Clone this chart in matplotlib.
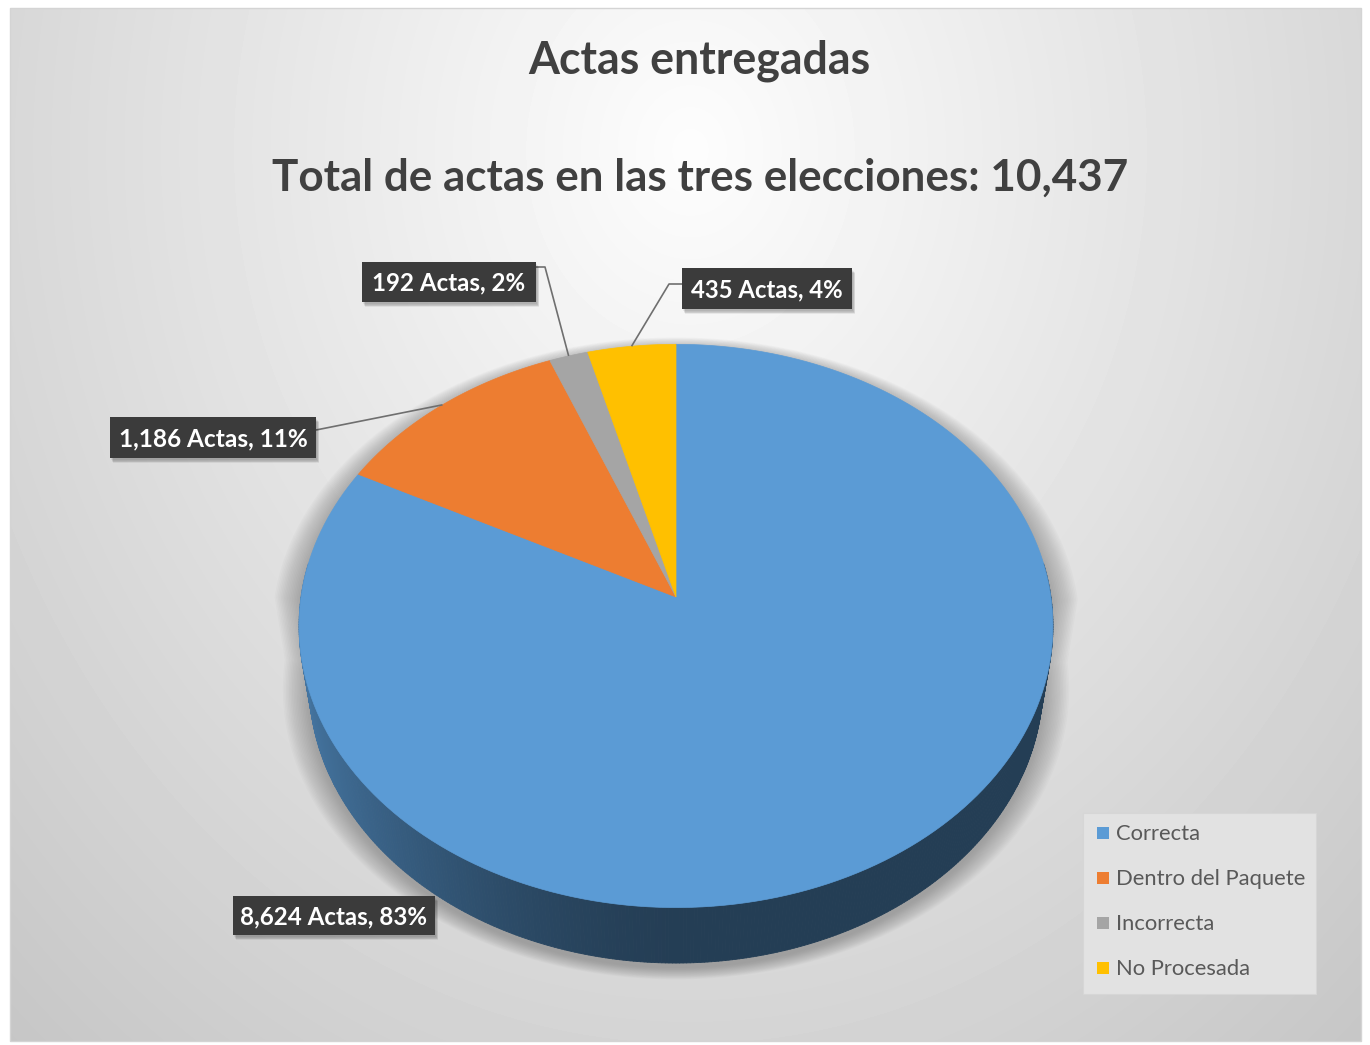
import numpy as np
import matplotlib
matplotlib.use('Agg')
import matplotlib.pyplot as plt
from matplotlib.patches import Polygon, Rectangle
from matplotlib.collections import PolyCollection
from matplotlib.colors import to_rgb

# ---------------- data ----------------
categories = ['Correcta', 'Dentro del Paquete', 'Incorrecta', 'No Procesada']
actas = [8624, 1186, 192, 435]
colors = ['#5B9BD5', '#ED7D31', '#A5A5A5', '#FFC000']
title = 'Actas entregadas'
subtitle = 'Total de actas en las tres elecciones: 10,437'

# ---------------- figure ----------------
W, H = 1370, 1045
fig = plt.figure(figsize=(W / 100, H / 100), dpi=100)
ax = fig.add_axes([0, 0, 1, 1])
ax.set_xlim(0, W)
ax.set_ylim(H, 0)
ax.axis('off')

FONT = ['Lato', 'DejaVu Sans']

# background gradient of chart area
x0, x1, y0, y1 = 10, 1361, 8, 1041
yy, xx = np.mgrid[y0:y1, x0:x1]
d = np.sqrt(((xx - 690) / 880.0) ** 2 + ((yy - 150) / 1050.0) ** 2)
img = np.clip(253 - 48 * d, 0, 255)
ax.imshow(img, extent=(x0, x1, y1, y0), cmap='gray', vmin=0, vmax=255,
          aspect='auto', zorder=0, interpolation='bilinear')
ax.add_patch(Rectangle((x0, y0), x1 - x0, y1 - y0, fill=False,
                       edgecolor='#d4d4d4', lw=1, zorder=1))

# ---------------- 3D pie projection ----------------
CX, CY = 676, 597
F, D = 2441.0, 6.51
el = np.radians(48)
sa, ca = np.sin(el), np.cos(el)
HGT = 0.238


def proj(x, y, z):
    v = y * sa + z * ca
    w = y * ca - z * sa
    return CX + F * x / (D + w), CY - F * v / (D + w)


total = sum(actas)
fr = np.array(actas) / total
bounds = np.concatenate([[0], np.cumsum(fr)]) * 360.0  # degrees clockwise from 12 o'clock


def slice_of(t):
    t = t % 360
    for i in range(len(actas)):
        if bounds[i] <= t < bounds[i + 1]:
            return i
    return len(actas) - 1


# soft shadow behind the pie
ts = np.radians(np.linspace(0, 360, 721))
sil = []
for t in ts:
    z = 0 if np.cos(t) >= 0 else -HGT
    sil.append(proj(np.sin(t), np.cos(t), z))
sil = np.array(sil)
for k in range(18):
    sx = 1.0 + 0.0042 * k
    sy = 1.0 + 0.0022 * k
    pts = np.column_stack([CX + (sil[:, 0] - CX) * sx,
                           660 + (sil[:, 1] - 660) * sy + 5])
    ax.add_patch(Polygon(pts, closed=True, facecolor='#6e6e6e', edgecolor='none',
                         alpha=0.035, zorder=2))

# side wall
quads, qcols = [], []
step = 0.5
for tdeg in np.arange(0, 360, step):
    tm = np.radians(tdeg + step / 2)
    if np.cos(tm) > 0.12:
        continue
    a, b = np.radians(tdeg), np.radians(tdeg + step)
    p = [proj(np.sin(a), np.cos(a), 0), proj(np.sin(b), np.cos(b), 0),
         proj(np.sin(b), np.cos(b), -HGT), proj(np.sin(a), np.cos(a), -HGT)]
    quads.append(p)
    base = np.array(to_rgb(colors[slice_of(tdeg + step / 2)]))
    f = 0.40 + 0.36 * max(0.0, -np.sin(tm)) ** 1.6
    qcols.append(tuple(np.clip(base * f, 0, 1)))
ax.add_collection(PolyCollection(quads, facecolors=qcols, edgecolors=qcols,
                                 linewidths=0.6, zorder=3))

# top face slices
for i in range(len(actas)):
    tt = np.radians(np.linspace(bounds[i], bounds[i + 1], 200))
    pts = [proj(0, 0, 0)] + [proj(np.sin(t), np.cos(t), 0) for t in tt]
    ax.add_patch(Polygon(pts, closed=True, facecolor=colors[i], edgecolor=colors[i],
                         lw=0.5, zorder=4))

# ---------------- titles ----------------
fig.canvas.draw()
renderer = fig.canvas.get_renderer()


def fit(txt, target):
    w = txt.get_window_extent(renderer).width
    txt.set_fontsize(txt.get_fontsize() * target / w)


t1 = ax.text(699, 61, title, ha='center', va='center', fontsize=26,
             fontweight='bold', color='#404040', family=FONT, zorder=10)
t2 = ax.text(700, 178, subtitle, ha='center', va='center', fontsize=26,
             fontweight='bold', color='#404040', family=FONT, zorder=10)
fit(t1, 342)
fit(t2, 855)

# ---------------- data labels ----------------
label_boxes = [(233, 896, 435, 935), (110, 417, 316, 458),
               (362, 262, 536, 302), (682, 268, 852, 309)]
text_widths = [188, 190, 154, 152]
leader_start = [None, [(316, 430)], [(536, 267), (545, 267)], [(682, 284), (669, 284)]]

for i in range(len(actas)):
    bx0, by0, bx1, by1 = label_boxes[i]
    for k in range(5):
        ax.add_patch(Rectangle((bx0 + 1 + k * 0.6, by0 + 2 + k * 0.8), bx1 - bx0, by1 - by0,
                               facecolor='black', edgecolor='none', alpha=0.06, zorder=11))
    ax.add_patch(Rectangle((bx0, by0), bx1 - bx0, by1 - by0, facecolor='#3b3b3b',
                           edgecolor='none', zorder=12))
    lab = f"{actas[i]:,} Actas, {round(100 * actas[i] / total)}%"
    tx = ax.text((bx0 + bx1) / 2, (by0 + by1) / 2 + 1, lab, ha='center', va='center',
                 fontsize=15, fontweight='bold', color='white', family=FONT, zorder=13)
    fit(tx, text_widths[i])
    if leader_start[i] is not None:
        mid = np.radians((bounds[i] + bounds[i + 1]) / 2)
        end = proj(np.sin(mid), np.cos(mid), 0)
        path = leader_start[i] + [end]
        ax.plot([p[0] for p in path], [p[1] for p in path], color='#6f6f6f', lw=1.2,
                zorder=9, solid_capstyle='butt')

# ---------------- legend ----------------
lx0, ly0, lx1, ly1 = 1083, 813, 1316, 994
ax.add_patch(Rectangle((lx0, ly0), lx1 - lx0, ly1 - ly0, facecolor='#e2e2e2',
                       edgecolor='#d6d6d6', lw=0.8, zorder=10))
row_y = [833, 878, 923, 968]
for i, cat in enumerate(categories):
    ax.add_patch(Rectangle((1097, row_y[i] - 6), 12, 12, facecolor=colors[i],
                           edgecolor='none', zorder=11))
    tx = ax.text(1116, row_y[i] + 1, cat, ha='left', va='center', fontsize=14,
                 color='#595959', family=FONT, zorder=11)
    if cat == 'Dentro del Paquete':
        legend_ref = tx
fit(legend_ref, 190)
for t in ax.texts:
    if t.get_text() in categories:
        t.set_fontsize(legend_ref.get_fontsize())

fig.savefig('out.png', dpi=100)
